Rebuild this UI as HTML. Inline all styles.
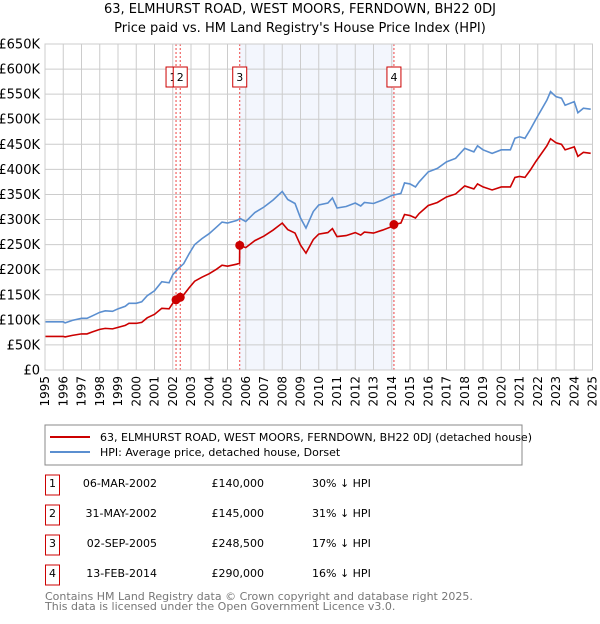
<!DOCTYPE html>
<html><head><meta charset="utf-8"><style>
body{margin:0;background:#fff;font-family:"DejaVu Sans","Liberation Sans",sans-serif;}
svg text{font-family:"DejaVu Sans","Liberation Sans",sans-serif;}
</style></head><body>
<svg id="c" width="600" height="620" xmlns="http://www.w3.org/2000/svg">
<text x="300" y="13" text-anchor="middle" font-size="13">63, ELMHURST ROAD, WEST MOORS, FERNDOWN, BH22 0DJ</text>
<text x="300" y="32" text-anchor="middle" font-size="13">Price paid vs. HM Land Registry's House Price Index (HPI)</text>
<g id="plot"></g>
<rect x="45" y="425" width="477" height="40" fill="#fff" stroke="#888"/>
<line x1="50" y1="437" x2="90" y2="437" stroke="#cc0000" stroke-width="2"/>
<text x="100" y="441" font-size="11">63, ELMHURST ROAD, WEST MOORS, FERNDOWN, BH22 0DJ (detached house)</text>
<line x1="50" y1="452" x2="90" y2="452" stroke="#5b8fd0" stroke-width="2"/>
<text x="100" y="456" font-size="11">HPI: Average price, detached house, Dorset</text>
<g id="table" font-size="11"></g>
<text x="45" y="600" font-size="11" fill="#777">Contains HM Land Registry data © Crown copyright and database right 2025.</text>
<text x="45" y="610" font-size="11" fill="#777">This data is licensed under the Open Government Licence v3.0.</text>
</svg>
<script>
const hpiYears=[1995,1995.5,1996,1996.1,1996.5,1997,1997.3,1997.6,1998,1998.3,1998.7,1999,1999.4,1999.6,2000,2000.3,2000.6,2001,2001.4,2001.8,2002,2002.3,2002.6,2002.9,2003.2,2003.6,2004,2004.4,2004.7,2005,2005.5,2005.7,2006,2006.5,2007,2007.5,2008,2008.3,2008.7,2009,2009.3,2009.7,2010,2010.5,2010.75,2011,2011.5,2012,2012.3,2012.5,2013,2013.5,2014,2014.5,2014.7,2015,2015.3,2015.5,2016,2016.5,2017,2017.5,2018,2018.5,2018.7,2019,2019.5,2020,2020.5,2020.75,2021,2021.3,2021.6,2021.9,2022.5,2022.7,2023,2023.3,2023.5,2024,2024.2,2024.5,2024.9];
const hpiValues=[96,96,96,94,99,103,103,108,115,118,117,122,127,133,133,136,148,158,176,174,190,202,212,232,250,262,272,285,295,293,298,302,296,314,325,339,356,340,332,303,283,316,329,333,343,323,326,333,327,334,332,339,348,352,373,371,365,375,395,402,415,422,442,435,447,439,432,439,439,462,465,462,480,500,538,555,545,542,528,535,513,522,520];
const redYears=[1995,1995.5,1996,1996.1,1996.5,1997,1997.3,1997.6,1998,1998.3,1998.7,1999,1999.4,1999.6,2000,2000.3,2000.6,2001,2001.4,2001.8,2002,2002.18,2002.3,2002.41,2002.6,2002.9,2003.2,2003.6,2004,2004.4,2004.7,2005,2005.5,2005.66,2005.67,2006,2006.5,2007,2007.5,2008,2008.3,2008.7,2009,2009.3,2009.7,2010,2010.5,2010.75,2011,2011.5,2012,2012.3,2012.5,2013,2013.5,2014,2014.12,2014.5,2014.7,2015,2015.3,2015.5,2016,2016.5,2017,2017.5,2018,2018.5,2018.7,2019,2019.5,2020,2020.5,2020.75,2021,2021.3,2021.6,2021.9,2022.5,2022.7,2023,2023.3,2023.5,2024,2024.2,2024.5,2024.9];
const redValues=[67,67,67,66,69,72,72,76,81,83,82,85,89,93,93,95,104,111,123,122,133,140,143,145,150,164,177,185,192,201,209,207,211,213,248.5,244,258,267,279,293,280,273,249,233,260,271,274,282,266,268,274,269,275,273,279,286,290,293,310,308,303,312,328,334,345,351,367,361,371,365,359,365,365,384,386,384,399,416,447,461,453,450,439,445,426,434,432];
const saleLabels=["1","2","3","4"];
const saleYears=[2002.18,2002.41,2005.67,2014.12];
const salePrices=[140,145,248.5,290];
const saleDates=["06-MAR-2002","31-MAY-2002","02-SEP-2005","13-FEB-2014"];
const salePriceText=["£140,000","£145,000","£248,500","£290,000"];
const saleHpiText=["30% ↓ HPI","31% ↓ HPI","17% ↓ HPI","16% ↓ HPI"];
const yTicks=[0,50,100,150,200,250,300,350,400,450,500,550,600,650];
const yTickLabels=["£0","£50K","£100K","£150K","£200K","£250K","£300K","£350K","£400K","£450K","£500K","£550K","£600K","£650K"];
const xTicks=[1995,1996,1997,1998,1999,2000,2001,2002,2003,2004,2005,2006,2007,2008,2009,2010,2011,2012,2013,2014,2015,2016,2017,2018,2019,2020,2021,2022,2023,2024,2025];

const NS="http://www.w3.org/2000/svg";
const X0=45,X1=592.5,Y0=370,Y1=44;
const x=y=>X0+(y-1995)/30*(X1-X0);
const yv=v=>Y0-v/650*(Y0-Y1);
function mk(tag,attrs,parent){const e=document.createElementNS(NS,tag);for(const k in attrs)e.setAttribute(k,attrs[k]);parent.appendChild(e);return e;}
const g=document.getElementById('plot');
const shade=mk('rect',{x:x(saleYears[2]),y:Y1,width:x(saleYears[3])-x(saleYears[2]),height:Y0-Y1,fill:'#eef2fc',opacity:0.7},g);


xTicks.forEach(t=>{
  const l=mk('line',{x1:x(t),x2:x(t),y1:Y1,y2:Y0,stroke:'#cccccc','stroke-width':1},g);
  
  
  const tx=mk('text',{x:0,y:0,'font-size':12,'text-anchor':'end',transform:`translate(${x(t)+4},376) rotate(-90)`},g);
  tx.textContent=t;
  
  
});
yTicks.forEach((t,i)=>{
  const l=mk('line',{x1:X0,x2:X1,y1:yv(t),y2:yv(t),stroke:'#cccccc','stroke-width':1},g);
  
  
  const tx=mk('text',{x:40,y:yv(t)+4.5,'font-size':13,'text-anchor':'end'},g);
  tx.textContent=yTickLabels[i];
  
  
});
saleYears.forEach((s,i)=>{
  const l=mk('line',{x1:x(s),x2:x(s),y1:Y1,y2:Y0,stroke:'#ee4444','stroke-width':1,'stroke-dasharray':'2,2'},g);
  
  
});
saleYears.forEach((s,i)=>{
  const bx=x(s)-(i==0?10:7);
  const r=mk('rect',{x:bx,y:67,width:14,height:20,fill:'#fff',stroke:'#cc0000'},g);
  
  
  const t=mk('text',{x:bx+7,y:81,'font-size':11,'text-anchor':'middle'},g);
  t.textContent=saleLabels[i];
  
  
});
const hp=mk('polyline',{points:hpiYears.map((t,i)=>x(t)+','+yv(hpiValues[i])).join(' '),fill:'none',stroke:'#5b8fd0','stroke-width':1.6},g);


const rp=mk('polyline',{points:redYears.map((t,i)=>x(t)+','+yv(redValues[i])).join(' '),fill:'none',stroke:'#cc0000','stroke-width':1.6},g);


saleYears.forEach((s,i)=>{
  const c=mk('circle',{cx:x(s),cy:yv(salePrices[i]),r:4.5,fill:'#cc0000'},g);
  
  
});
const fr=mk('rect',{x:X0,y:Y1,width:X1-X0,height:Y0-Y1,fill:'none',stroke:'#cccccc'},g);


const tb=document.getElementById('table');
saleLabels.forEach((lab,i)=>{
  const cy=483+i*30;
  const r=mk('rect',{x:45.5,y:cy-8,width:14,height:20,fill:'#fff',stroke:'#cc0000'},tb);
  
  
  const a=mk('text',{x:52.5,y:cy+4,'text-anchor':'middle'},tb);a.textContent=lab;
  
  
  const d=mk('text',{x:157,y:cy+4,'text-anchor':'end'},tb);d.textContent=saleDates[i];
  
  
  const p=mk('text',{x:264,y:cy+4,'text-anchor':'end'},tb);p.textContent=salePriceText[i];
  
  
  const h=mk('text',{x:312,y:cy+4},tb);h.textContent=saleHpiText[i];
  
  
});
</script>
</body></html>
